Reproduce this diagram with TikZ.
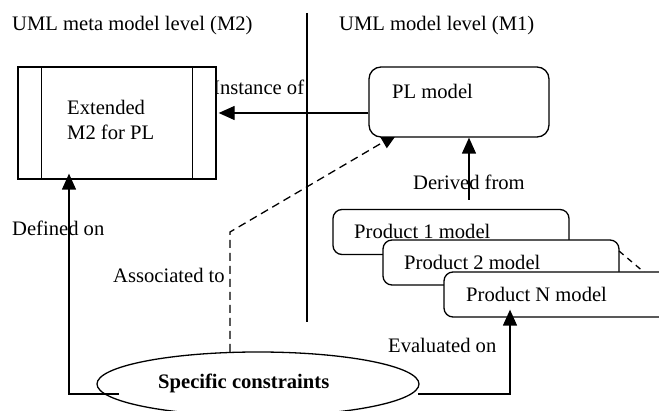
\documentclass[tikz,border=0pt]{standalone}
\usepackage{fontspec}
\setmainfont{Liberation Serif}
\usetikzlibrary{arrows.meta,shapes.geometric}
\begin{document}
\begin{tikzpicture}[x=1pt,y=-1pt,
  lbl/.style={anchor=base west,inner sep=0pt,font=\fontsize{20.6}{24}\selectfont},
  boxline/.style={draw,line width=1.3pt,fill=white,inner sep=0pt},
  prodbox/.style={boxline,rounded corners=9pt,minimum width=236pt,minimum height=45pt},
  arr/.style={-{Triangle[length=16pt,width=14pt]},line width=1.3pt},
  dasharr/.style={arr,dash pattern=on 8pt off 5pt}]
\useasboundingbox (0,0) rectangle (659,411);
\clip (0,0) rectangle (659,411);

% level headings and separator
\node[lbl] (hm2) at (12,31) {UML meta model level (M2)};
\node[lbl] (hm1) at (339,31) {UML model level (M1)};
\coordinate (sepTop) at (307,13);
\coordinate (sepBot) at (307,322);
\draw[line width=1.4pt] (sepTop) -- (sepBot);

% constraints ellipse
\node[ellipse,draw,line width=1.3pt,fill=white,minimum width=322pt,minimum height=64pt,inner sep=0pt] (sc) at (258,384) {};
\node[lbl,font=\fontsize{20.6}{24}\selectfont\bfseries] (sctext) at (158,389) {Specific constraints};

% dashed association towards the PL model
\coordinate (scTop) at (230,352);
\coordinate (bend) at (230,232);
\coordinate (plHit) at (397,134);
\draw[dasharr] (scTop) -- (bend) -- (plHit);
\node[lbl] (assoc) at (113,283) {Associated to};

% PL model
\node[boxline,rounded corners=12pt,minimum width=180pt,minimum height=70pt] (pl) at (459,102) {};
\node[lbl] (pltext) at (392,99) {PL model};

% extended meta model
\node[lbl] (inst) at (213,95) {Instance of};
\node[boxline,minimum width=198pt,minimum height=112pt] (m2) at (117,123) {};
\draw[line width=1.3pt] ([xshift=24pt]m2.north west) -- ([xshift=24pt]m2.south west);
\draw[line width=1.3pt] ([xshift=-24pt]m2.north east) -- ([xshift=-24pt]m2.south east);
\node[lbl] (m2a) at (67,115) {Extended};
\node[lbl] (m2b) at (67,140) {M2 for PL};
\draw[arr] (pl.west |- 0,113) -- ([xshift=2pt]m2.east |- 0,113);

% product models
\node[prodbox] (p1) at (451,232) {};
\node[lbl] (p1text) at (354,239) {Product 1 model};
\node[prodbox] (p2) at (501,262.5) {};
\node[lbl] (p2text) at (404,270) {Product 2 model};
\coordinate (dotsA) at (619,251);
\coordinate (dotsB) at (645,273);
\draw[line width=1.3pt,dash pattern=on 6pt off 5pt] (dotsA) -- (dotsB);
\node[prodbox] (pn) at (562,294.5) {};
\node[lbl] (pntext) at (466,302) {Product N model};

% derivation
\coordinate (derFrom) at (469,200);
\draw[arr] (derFrom) -- (pl.south -| derFrom);
\node[lbl] (der) at (413,190) {Derived from};

% defined on
\coordinate (defStart) at (119,394);
\coordinate (defCorner) at (69,394);
\draw[arr] (defStart) -- (defCorner) -- ([yshift=6pt]m2.south -| defCorner);
\node[lbl] (def) at (12,236) {Defined on};

% evaluated on
\coordinate (evStart) at (418,394);
\coordinate (evCorner) at (510,394);
\draw[arr] (evStart) -- (evCorner) -- ([yshift=8pt]pn.south -| evCorner);
\node[lbl] (ev) at (388,353) {Evaluated on};
\end{tikzpicture}
\end{document}
